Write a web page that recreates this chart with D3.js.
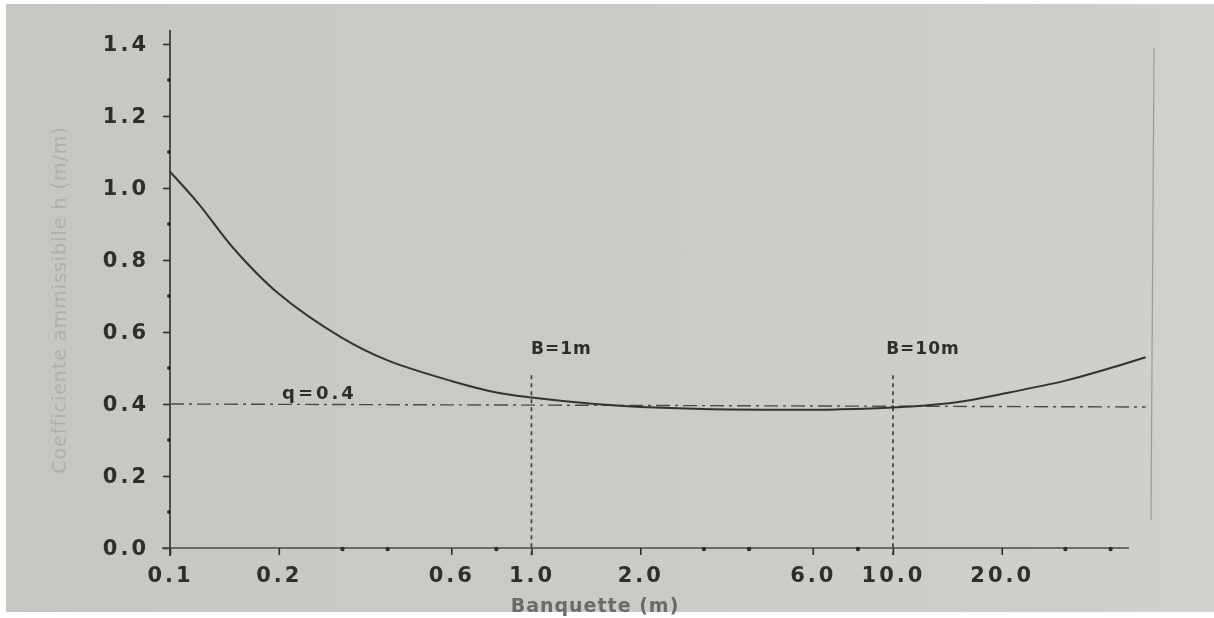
<!doctype html>
<html lang="en">
  <head>
    <meta charset="utf-8">
    <title>Banquette</title>
    <style>
      body { margin: 0; background: #fff; }
      svg { display: block; }
    </style>
  </head>
  <body>
    <div id="chart"></div>
    <script src="https://d3js.org/d3.v7.min.js"></script>
    <script>
    // values
    var banquette = [0.1, 0.12, 0.15, 0.2, 0.3, 0.4, 0.6, 0.8, 1, 1.5, 2, 3, 5, 7, 10, 15, 20, 30, 40, 50];
    var coeff = [1.045, 0.956, 0.832, 0.706, 0.583, 0.521, 0.464, 0.432, 0.418, 0.40, 0.392, 0.386, 0.384, 0.385, 0.39, 0.405, 0.428, 0.465, 0.50, 0.53];

    var xTicks = [0.1, 0.2, 0.6, 1, 2, 6, 10, 20];
    var xTickLabels = ["0.1", "0.2", "0.6", "1.0", "2.0", "6.0", "10.0", "20.0"];
    var xMinor = [0.3, 0.4, 0.8, 3, 4, 8, 30, 40];
    var yTicks = [0, 0.2, 0.4, 0.6, 0.8, 1.0, 1.2, 1.4];
    var yMinor = [0.1, 0.3, 0.5, 0.7, 0.9, 1.1, 1.3];

    var qLevel = 0.4;
    var markers = [{b: 1, label: "B=1m"}, {b: 10, label: "B=10m"}];

    var W = 1214, H = 618;
    var ink = "#2e2e2c";

    var svg = d3.select("#chart").append("svg")
        .attr("width", W)
        .attr("height", H);

    var defs = svg.append("defs");
    defs.append("filter").attr("id", "soft")
      .append("feGaussianBlur").attr("stdDeviation", 0.7);
    var grad = defs.append("linearGradient").attr("id", "paper")
        .attr("x1", 0).attr("x2", 1).attr("y1", 0).attr("y2", 0);
    grad.append("stop").attr("offset", "0%").attr("stop-color", "#c6c7c3");
    grad.append("stop").attr("offset", "60%").attr("stop-color", "#cbccc8");
    grad.append("stop").attr("offset", "100%").attr("stop-color", "#d0d0cc");

    // photo of the page
    svg.append("rect")
      .attr("x", 6).attr("y", 4)
      .attr("width", W - 6).attr("height", H - 10)
      .attr("fill", "url(#paper)");

    var x = d3.scaleLog().domain([0.1, 50]).range([170, 1145.6]);
    var y = d3.scaleLinear().domain([0, 1.4]).range([548, 44]);

    var g = svg.append("g").attr("filter", "url(#soft)");

    // faint frame on the right
    g.append("line")
      .attr("x1", 1154).attr("x2", 1151)
      .attr("y1", 48).attr("y2", 520)
      .attr("stroke", "#9a9b97").attr("stroke-width", 1.2);

    // y axis
    var yAxis = g.append("g")
      .attr("transform", "translate(170,0)")
      .call(d3.axisLeft(y).tickValues(yTicks).tickSize(7).tickPadding(14)
        .tickFormat(d3.format(".1f")));
    yAxis.select(".domain").attr("stroke", ink).attr("stroke-width", 1.6)
      .attr("d", "M0," + (y(1.4) - 14) + "V" + (y(0) + 8));
    yAxis.selectAll(".tick line").attr("stroke", ink).attr("stroke-width", 1.6);
    yAxis.selectAll("text")
      .attr("fill", ink)
      .style("font-family", "'DejaVu Sans'")
      .style("font-weight", "bold")
      .style("font-size", "21px")
      .style("letter-spacing", "3px");

    g.append("g").selectAll("circle")
      .data(yMinor)
      .join("circle")
      .attr("cx", 169).attr("cy", function(d){ return y(d); })
      .attr("r", 2).attr("fill", ink);

    // x axis
    var xAxis = g.append("g")
      .attr("transform", "translate(0,548)")
      .call(d3.axisBottom(x).tickValues(xTicks).tickSize(7).tickPadding(12)
        .tickFormat(function(d, i){ return xTickLabels[i]; }));
    xAxis.select(".domain").attr("stroke", "#4a4a48").attr("stroke-width", 1.3)
      .attr("d", "M" + (x(0.1) - 8) + ",0H" + x(45));
    xAxis.selectAll(".tick line").attr("stroke", ink).attr("stroke-width", 1.6);
    xAxis.selectAll("text")
      .attr("fill", ink)
      .style("font-family", "'DejaVu Sans'")
      .style("font-weight", "bold")
      .style("font-size", "21px")
      .style("letter-spacing", "3px");

    g.append("g").selectAll("circle")
      .data(xMinor)
      .join("circle")
      .attr("cx", function(d){ return x(d); }).attr("cy", 549)
      .attr("r", 2.2).attr("fill", ink);

    // q = 0.4 reference line
    g.append("line")
      .attr("x1", x(0.1)).attr("x2", x(50))
      .attr("y1", y(qLevel)).attr("y2", y(qLevel) + 3)
      .attr("stroke", "#4a4a48").attr("stroke-width", 1.4)
      .attr("stroke-dasharray", "14,5,3,5");

    g.append("text")
      .attr("x", 282).attr("y", y(qLevel) - 5)
      .attr("fill", ink)
      .style("font-family", "'DejaVu Sans'")
      .style("font-weight", "bold")
      .style("font-size", "18px")
      .style("letter-spacing", "3px")
      .text("q=0.4");

    // B markers
    var mk = g.append("g").selectAll("g")
      .data(markers)
      .join("g");
    mk.append("line")
      .attr("x1", function(d){ return x(d.b); })
      .attr("x2", function(d){ return x(d.b); })
      .attr("y1", y(0.48)).attr("y2", y(0) + 8)
      .attr("stroke", "#3a3a38").attr("stroke-width", 1.6)
      .attr("stroke-dasharray", "4,4");
    mk.append("text")
      .attr("x", function(d){ return x(d.b) + 30; })
      .attr("y", y(0.54))
      .attr("text-anchor", "middle")
      .attr("fill", ink)
      .style("font-family", "'DejaVu Sans'")
      .style("font-weight", "bold")
      .style("font-size", "17px")
      .style("letter-spacing", "1px")
      .text(function(d){ return d.label; });

    // curve
    var line = d3.line()
      .x(function(d){ return x(d[0]); })
      .y(function(d){ return y(d[1]); })
      .curve(d3.curveCatmullRom.alpha(0.5));

    g.append("path")
      .datum(d3.zip(banquette, coeff))
      .attr("d", line)
      .attr("fill", "none")
      .attr("stroke", "#333331")
      .attr("stroke-width", 2);

    // axis titles
    g.append("text")
      .attr("x", 595).attr("y", 612)
      .attr("text-anchor", "middle")
      .attr("fill", "#6a6b68")
      .style("font-family", "'DejaVu Sans'")
      .style("font-weight", "bold")
      .style("font-size", "19px")
      .style("letter-spacing", "1px")
      .text("Banquette (m)");

    g.append("text")
      .attr("transform", "translate(66,300) rotate(-90)")
      .attr("text-anchor", "middle")
      .attr("fill", "#aeafab")
      .style("font-family", "'DejaVu Sans'")
      .style("font-size", "19px")
      .style("letter-spacing", "1px")
      .text("Coefficiente ammissibile h (m/m)");
    </script>
  </body>
</html>
